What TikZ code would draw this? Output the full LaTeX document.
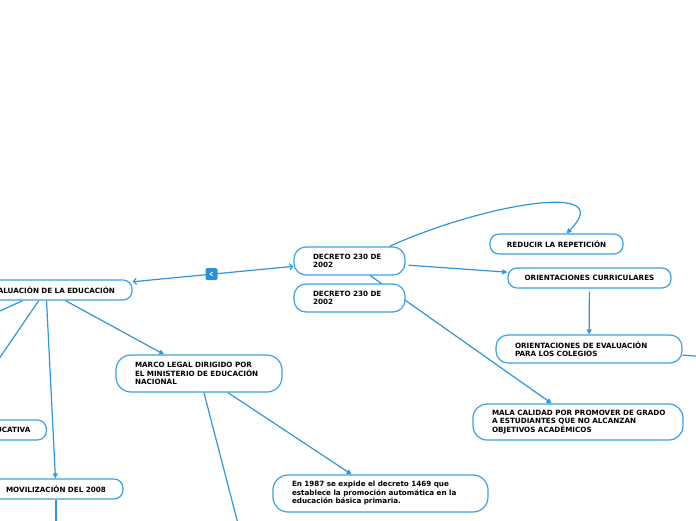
\documentclass[tikz,border=0pt]{standalone}
\usepackage{fontspec}
\setmainfont{DejaVu Sans}
\usetikzlibrary{arrows.meta,backgrounds,calc}
\definecolor{lnk}{HTML}{2D96DE}
\definecolor{brd}{HTML}{3BA0E6}
\definecolor{icon}{HTML}{2B90D9}
\tikzset{
  txt/.style={font=\fontsize{7.2}{8.5}\selectfont\bfseries},
  box/.style={txt, draw=brd, line width=1.2pt, fill=white, rounded corners=12pt, align=left, inner xsep=19pt, inner ysep=2pt},
  pill/.style={txt, draw=brd, line width=1.2pt, fill=white, rounded corners=9pt, minimum height=20pt, inner ysep=2pt},
  conn/.style={draw=lnk, line width=1.2pt},
  arr/.style={conn, -{Triangle[length=5pt,width=5pt]}},
  barb/.style={conn, {Straight Barb[length=3pt,width=6pt]}-{Straight Barb[length=3pt,width=6pt]}}
}
\begin{document}
\begin{tikzpicture}[x=1pt,y=-1pt]
\clip (0,0) rectangle (696,520);
\useasboundingbox (0,0) rectangle (696,520);
% nodes
\node[pill, text width=138pt, inner xsep=17pt, align=right] (eval) at (46,290) {EVALUACIÓN DE LA EDUCACIÓN};
\node[pill, text width=60pt, inner xsep=16pt, align=right, anchor=east] (educ) at (47,430) {EDUCATIVA};
\node[pill, text width=100pt, inner xsep=17pt, align=center] (mov) at (56,489) {MOVILIZACIÓN DEL 2008};
\node[box, text width=73pt, minimum height=28pt] (dec1) at (349.5,261) {\mbox{DECRETO 230 DE}\\\mbox{2002}};
\node[box, text width=73pt, minimum height=28pt] (dec2) at (349.5,298) {\mbox{DECRETO 230 DE}\\\mbox{2002}};
\node[pill, minimum width=133pt] (red) at (556.5,244) {REDUCIR LA REPETICIÓN};
\node[pill, minimum width=163pt] (curr) at (589.5,278) {ORIENTACIONES CURRICULARES};
\node[box, text width=148pt, minimum height=28pt] (oeval) at (589,349) {\mbox{ORIENTACIONES DE EVALUACIÓN}\\\mbox{PARA LOS COLEGIOS}};
\node[box, text width=172pt, minimum height=36pt, rounded corners=14pt] (mala) at (578,422) {\mbox{MALA CALIDAD POR PROMOVER DE GRADO}\\\mbox{A ESTUDIANTES QUE NO ALCANZAN}\\\mbox{OBJETIVOS ACADÉMICOS}};
\node[box, text width=128pt, minimum height=37pt, rounded corners=15pt] (marco) at (199,373.5) {\mbox{MARCO LEGAL DIRIGIDO POR}\\\mbox{EL MINISTERIO DE EDUCACIÓN}\\\mbox{NACIONAL}};
\node[box, text width=177pt, minimum height=37pt, rounded corners=15pt] (en) at (380.5,493.5) {\mbox{En 1987 se expide el decreto 1469 que}\\\mbox{establece la promoción automática en la}\\\mbox{educación básica primaria.}};
\node[fill=icon, rounded corners=1.5pt, minimum size=12pt, inner sep=0pt] (tog) at (211.5,274) {};
\draw[white, line width=0.8pt] ($(tog)+(1.2,-2)$) -- ($(tog)+(-1.5,0)$) -- ($(tog)+(1.2,2)$);
% free ends
\coordinate (offr) at (710,357);
\coordinate (offa) at (-10,372);
\coordinate (offd) at (-10,315.5);
\coordinate (offb) at (56,530);
\coordinate (offc) at (239.6,530);
% connectors
\begin{scope}[on background layer]
\draw[barb] (eval) -- (dec1);
\draw[arr, shorten <=3pt] (dec1) -- (curr);
\draw[arr] (dec1) -- (mala);
\draw[arr, shorten <=3pt] (curr) -- (oeval);
\draw[conn] (oeval) -- (offr);
\draw[arr] (eval) -- (marco);
\draw[arr] (eval) -- (mov);
\draw[conn] (eval) -- (offa);
\draw[conn] (eval) -- (offd);
\draw[conn] (mov) -- (offb);
\draw[conn] (marco) -- (offc);
\draw[arr] (marco) -- (en);
\draw[arr] ($(dec1.north)+(40,0)$) .. controls (480,205) and (620,180) .. ($(red.north)+(10,0)$);
\end{scope}
\end{tikzpicture}
\end{document}
